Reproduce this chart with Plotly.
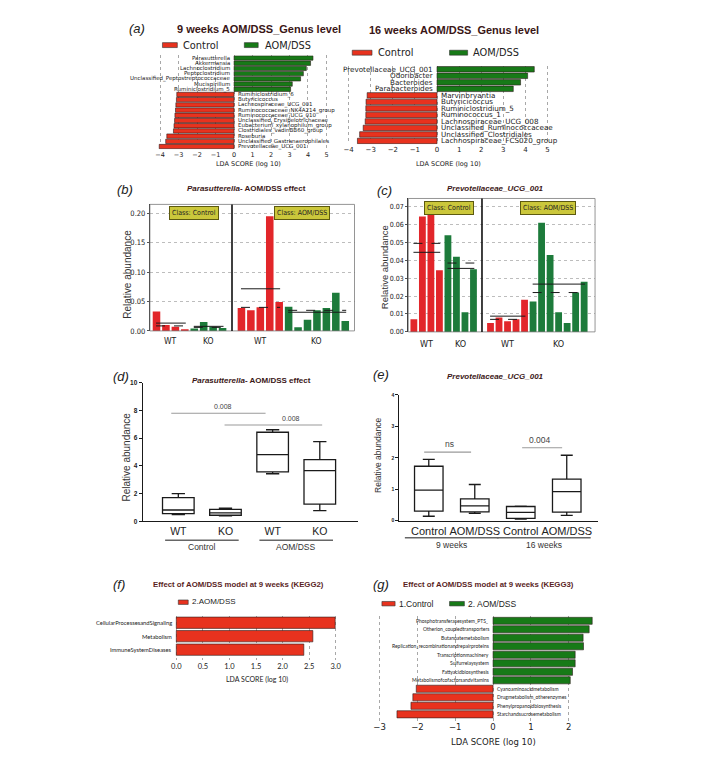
import numpy as np
import plotly.graph_objects as go

# ---------------- DATA ----------------
# (a) LEfSe genus level, 9 weeks
a9_aom_taxa = ["Parasutterella", "Akkermansia", "Lachnoclostridium", "Peptoclostridium",
               "Unclassified_Peptostreptococcaceae", "Mucispirillum", "Ruminiclostridium_5"]
a9_aom_lda = [4.27, 4.14, 3.91, 3.75, 3.60, 3.15, 3.06]
a9_ctrl_taxa = ["Ruminiclostridium_6", "Butyricicoccus", "Lachnospiraceae_UCG_001",
                "Ruminococcaceae_NK4A214_group", "Ruminococcaceae_UCG_010",
                "Unclassified_Erysipelotrichaceae", "Eubacterium_xylanophilum_group",
                "Clostridiales_vadinBB60_group", "Roseburia",
                "Unclassified_Gastranaerophilales", "Prevotellaceae_UCG_001"]
a9_ctrl_lda = [-3.10, -3.12, -3.15, -3.17, -3.20, -3.22, -3.25, -3.28, -3.64, -3.70, -4.05]
# (a) 16 weeks
a16_aom_taxa = ["Prevotellaceae_UCG_001", "Odoribacter", "Bacteroides", "Parabacteroides"]
a16_aom_lda = [4.40, 4.10, 3.78, 3.45]
a16_ctrl_taxa = ["Marvinbryantia", "Butyricicoccus", "Ruminiclostridium_5", "Ruminococcus_1",
                 "Lachnospiraceae_UCG_008", "Unclassified_Ruminococcaceae",
                 "Unclassified_Clostridiales", "Lachnospiraceae_FCS020_group"]
a16_ctrl_lda = [-3.16, -3.21, -3.22, -3.22, -3.25, -3.34, -3.50, -3.60]
lda_ticks_a = [-4, -3, -2, -1, 0, 1, 2, 3, 4, 5]

# (b) Parasutterella relative abundance per mouse
b_ctrl_wt = [0.033, 0.010, 0.007, 0.003]
b_ctrl_ko = [0.004, 0.015, 0.007, 0.005]
b_aom_wt = [0.039, 0.035, 0.040, 0.195, 0.049]
b_aom_ko = [0.041, 0.006, 0.019, 0.035, 0.039, 0.065, 0.017]
b_group_labels = ["WT", "KO", "WT", "KO"]
b_yticks = [0.00, 0.05, 0.10, 0.15, 0.20]

# (c) Prevotellaceae_UCG_001 relative abundance per mouse
c_ctrl_wt = [0.007, 0.0645, 0.072, 0.0345]
c_ctrl_ko = [0.054, 0.042, 0.011, 0.035]
c_aom_wt = [0.005, 0.008, 0.006, 0.007, 0.018]
c_aom_ko = [0.017, 0.061, 0.043, 0.011, 0.005, 0.022, 0.028]
c_group_labels = ["WT", "KO", "WT", "KO"]
c_yticks = [0.00, 0.01, 0.02, 0.03, 0.04, 0.05, 0.06, 0.07]

# (d) box plot summaries
d_labels = ["WT", "KO", "WT", "KO"]
d_low = [0.48, 0.38, 3.43, 0.76]
d_q1 = [0.55, 0.43, 3.57, 1.24]
d_med = [0.81, 0.60, 4.81, 3.66]
d_q3 = [1.71, 0.86, 6.43, 4.45]
d_high = [2.00, 0.95, 6.61, 5.76]
d_groups = ["Control", "AOM/DSS"]
d_sig_x0 = [-0.15, 0.98]
d_sig_x1 = [1.85, 3.05]
d_sig_y = [7.8, 6.95]
d_sig_tx = [0.95, 2.4]
d_sig_text = ["0.008", "0.008"]
d_yticks = [0, 2, 4, 6, 8, 10]

# (e) box plot summaries
e_labels = ["Control", "AOM/DSS", "Control", "AOM/DSS"]
e_low = [0.14, 0.23, 0.05, 0.17]
e_q1 = [0.30, 0.28, 0.07, 0.27]
e_med = [0.97, 0.47, 0.26, 0.92]
e_q3 = [1.73, 0.69, 0.45, 1.32]
e_high = [1.95, 1.15, 0.46, 2.08]
e_groups = ["9 weeks", "16 weeks"]
e_sig_x0 = [-0.1, 2.03]
e_sig_x1 = [0.92, 2.9]
e_sig_y = [2.18, 2.32]
e_sig_tx = [0.44, 2.42]
e_sig_text = ["ns", "0.004"]
e_yticks = [0, 1, 2, 3, 4]

# (f) KEGG2
f_names = ["CellularProcessesandSignaling", "Metabolism", "ImmuneSystemDiseases"]
f_vals = [2.99, 2.57, 2.40]
f_ticks = [0, 0.5, 1.0, 1.5, 2.0, 2.5, 3.0]

# (g) KEGG3
g_aom_names = ["Phosphotransferasesystem_PTS_", "Otherion_coupledtransporters", "Butanoatemetabolism",
               "Replication_recombinationandrepairproteins", "Transcriptionmachinery",
               "Sulfurrelaysystem", "Fattyacidbiosynthesis", "Metabolismofcofactorsandvitamins"]
g_aom_vals = [2.62, 2.54, 2.38, 2.39, 2.17, 2.17, 2.10, 2.04]
g_ctrl_names = ["Cyanoaminoacidmetabolism", "Drugmetabolism_otherenzymes",
                "Phenylpropanoidbiosynthesis", "Starchandsucrosemetabolism"]
g_ctrl_vals = [-2.03, -2.12, -2.17, -2.54]
g_ticks = [-3, -2, -1, 0, 1, 2]

# ---------------- STYLE / HELPERS ----------------
W, H = 709, 779          # browser window
OX, OY = 8, 8            # default page margin of the html body
FW, FH = W - 2 * OX, H - 2 * OY
RED = "#e8321e"
GREEN = "#177a17"
BRED = "#e2262a"
BGREEN = "#1d7b3b"
YEL = "#cbc73b"
INK = "#222222"
TITLE = "#3a1616"
TITLE2 = "#5a1e1e"
SANS = "Liberation Sans, Arial, sans-serif"
DEJ = "DejaVu Sans, sans-serif"
COND = "DejaVu Sans Condensed, Liberation Sans Narrow, Lato, sans-serif"
LATO = "Lato, sans-serif"


def px(x):
    return (x - OX) / FW


def py(y):
    return 1 - (y - OY) / FH


def xdom(a, b):
    return [px(a), px(b)]


def ydom(t, b):
    return [py(b), py(t)]


def axnames(n):
    s = "" if n == 1 else str(n)
    return "xaxis" + s, "yaxis" + s, "x" + s, "y" + s


fig = go.Figure()
ann, shp, lay = [], [], {}


def note(x, y, s, size, family=SANS, color=INK, xref="paper", yref="paper",
         xanchor="center", yanchor="middle", **kw):
    ann.append(dict(x=x, y=y, xref=xref, yref=yref, text=s, showarrow=False,
                    xanchor=xanchor, yanchor=yanchor,
                    font=dict(size=size, family=family, color=color), **kw))


def pnote(xp, yp, s, size, **kw):
    note(px(xp), py(yp), s, size, **kw)


def prect(x0, y0, x1, y1, fill, line="#333333"):
    shp.append(dict(type="rect", xref="paper", yref="paper", x0=px(x0), x1=px(x1),
                    y0=py(y1), y1=py(y0), fillcolor=fill, line=dict(color=line, width=0.6)))


def lefse(n, pos_names, pos_vals, neg_names, neg_vals, pos_color, neg_color,
          dom_x, dom_y, xr, ticks, lab_font, lab_size, tick_font, tick_size,
          tickfmt=None, ybottom_extra=0.0):
    XA, YA, xa, ya = axnames(n)
    names = pos_names + neg_names
    vals = pos_vals + neg_vals
    idx = list(range(len(names)))
    colors = [pos_color] * len(pos_vals) + [neg_color] * len(neg_vals)
    fig.add_trace(go.Bar(x=vals, y=idx, orientation="h", width=0.84,
                         marker=dict(color=colors, line=dict(color="#2b1b1b", width=0.6)),
                         xaxis=xa, yaxis=ya, showlegend=False, hoverinfo="skip"))
    xaxis = dict(domain=dom_x, range=xr, anchor=ya, tickvals=ticks,
                 showgrid=True, gridcolor="#a8a8a8", griddash="dot", gridwidth=0.8,
                 zeroline=False, showline=False, ticks="",
                 tickfont=dict(size=tick_size, family=tick_font, color=INK))
    if tickfmt:
        xaxis["tickformat"] = tickfmt
    lay[XA] = xaxis
    lay[YA] = dict(domain=dom_y, range=[len(names) - 0.5 + ybottom_extra, -0.5],
                   anchor=xa, visible=False)
    for i, (nm, v) in enumerate(zip(names, vals)):
        if v >= 0:
            note(0, i, nm, lab_size, family=lab_font, xref=xa, yref=ya, xanchor="right", xshift=-2)
        else:
            note(0, i, nm, lab_size, family=lab_font, xref=xa, yref=ya, xanchor="left", xshift=2)


def abund(n, groups, glabels, dom_x, dom_y, xr, yr, yticks, label_y, tick_size, lab_size):
    XA, YA, xa, ya = axnames(n)
    colors = [BRED, BGREEN, BRED, BGREEN]
    pos = 0
    xs_all, ys_all, cs_all = [], [], []
    divider = None
    for gi, vals in enumerate(groups):
        if gi == 2:
            divider = pos
            pos += 1
        xs = list(range(pos, pos + len(vals)))
        pos += len(vals)
        xs_all += xs
        ys_all += list(vals)
        cs_all += [colors[gi]] * len(vals)
        m = float(np.mean(vals))
        md = float(np.median(vals))
        shp.append(dict(type="line", xref=xa, yref=ya, x0=xs[0] - 0.05, x1=xs[-1] + 0.1,
                        y0=m, y1=m, line=dict(color="#1a1a1a", width=1), layer="above"))
        shp.append(dict(type="line", xref=xa, yref=ya, x0=xs[0] - 0.05, x1=xs[-1] + 0.1,
                        y0=md, y1=md, line=dict(color="#1a1a1a", width=1, dash="dash"),
                        layer="above"))
        note((xs[0] + xs[-1]) / 2, py(label_y), glabels[gi], lab_size, family=COND,
             xref=xa, yref="paper")
    fig.add_trace(go.Bar(x=xs_all, y=ys_all, width=0.8, marker=dict(color=cs_all, line=dict(width=0)),
                         xaxis=xa, yaxis=ya, showlegend=False, hoverinfo="skip"))
    lay[XA] = dict(domain=dom_x, range=xr, anchor=ya, showticklabels=False, showgrid=False,
                   zeroline=False, showline=False, ticks="")
    lay[YA] = dict(domain=dom_y, range=yr, anchor=xa, tickvals=yticks, tickformat=".2f",
                   showgrid=True, gridcolor="#bdbdbd", griddash="dot", gridwidth=0.8,
                   zeroline=False, showline=True, linecolor="#333", linewidth=1,
                   ticks="outside", ticklen=2, tickcolor="#555",
                   tickfont=dict(size=tick_size, family=COND, color=INK))
    shp.append(dict(type="rect", xref=xa + " domain", yref=ya + " domain", x0=0, x1=1, y0=0, y1=1,
                    line=dict(color="#7a7a7a", width=0.8)))
    shp.append(dict(type="line", xref=xa, yref=ya + " domain", x0=divider, x1=divider, y0=0, y1=1,
                    line=dict(color="#111", width=1.6)))


def boxes(n, labels, low, q1, med, q3, high, dom_x, dom_y, xr, yr, yticks, bw,
          lab_size, ytick_size, sig_x0, sig_x1, sig_y, sig_tx, sig_text, sig_size,
          groups, group_half, line_y, group_y, group_size):
    XA, YA, xa, ya = axnames(n)
    pos = list(range(len(labels)))
    fig.add_trace(go.Box(x=pos, q1=q1, median=med, q3=q3, lowerfence=low, upperfence=high,
                         width=bw, whiskerwidth=0.42, line=dict(color="#1a1a1a", width=1.3),
                         fillcolor="rgba(0,0,0,0)", boxpoints=False, xaxis=xa, yaxis=ya,
                         showlegend=False, hoverinfo="skip"))
    lay[XA] = dict(domain=dom_x, range=xr, anchor=ya, tickvals=pos, ticktext=labels,
                   tickangle=0, showline=True, linecolor="#1a1a1a", linewidth=1.2, ticks="",
                   showgrid=False, zeroline=False,
                   tickfont=dict(size=lab_size, family=SANS, color=INK))
    lay[YA] = dict(domain=dom_y, range=yr, anchor=xa, tickvals=yticks, showline=True,
                   linecolor="#1a1a1a", linewidth=1.2, ticks="outside", ticklen=3,
                   tickwidth=1, tickcolor="#1a1a1a", showgrid=False, zeroline=False,
                   tickfont=dict(size=ytick_size, family=SANS, color=INK, weight="bold"))
    for x0, x1, yv, tx, t in zip(sig_x0, sig_x1, sig_y, sig_tx, sig_text):
        shp.append(dict(type="line", xref=xa, yref=ya, x0=x0, x1=x1, y0=yv, y1=yv,
                        line=dict(color="#9a9a9a", width=1.1)))
        note(tx, yv, t, sig_size, xref=xa, yref=ya, yanchor="bottom", yshift=1, color="#444")
    for gi, g in enumerate(groups):
        c = (pos[2 * gi] + pos[2 * gi + 1]) / 2
        shp.append(dict(type="line", xref=xa, yref="paper", x0=c - group_half, x1=c + group_half,
                        y0=py(line_y), y1=py(line_y), line=dict(color="#666", width=1.6)))
        note(c, py(group_y), g, group_size, xref=xa, yref="paper", color="#333")


# ---------------- PANEL (a) ----------------
lefse(1, a9_aom_taxa, a9_aom_lda, a9_ctrl_taxa, a9_ctrl_lda, GREEN, RED,
      xdom(150.2, 335), ydom(51.9, 146.8), [-4.4, 5.5], lda_ticks_a, DEJ, 5.5, DEJ, 6.5)
lefse(2, a16_aom_taxa, a16_aom_lda, a16_ctrl_taxa, a16_ctrl_lda, GREEN, RED,
      xdom(345.8, 555.7), ydom(62.7, 141.8), [-4.1, 5.3], lda_ticks_a, DEJ, 7.2, DEJ, 7)
pnote(134, 25, "<i>(a)</i>", 13)
pnote(258, 25, "<b>9 weeks AOM/DSS_Genus level</b>", 11, color=TITLE)
pnote(455, 26, "<b>16 weeks AOM/DSS_Genus level</b>", 11, color=TITLE)
prect(160, 39, 175, 44, RED)
pnote(178.3, 41.5, "Control", 9.8, family=DEJ, xanchor="left")
prect(242.7, 39, 256.7, 44, GREEN)
pnote(261.7, 41.5, "AOM/DSS", 9.8, family=DEJ, xanchor="left")
prect(351.7, 46.7, 371.7, 51.7, RED)
pnote(376, 49, "Control", 9.8, family=DEJ, xanchor="left")
prect(450, 46.7, 468.3, 51.7, GREEN)
pnote(471.7, 49, "AOM/DSS", 9.8, family=DEJ, xanchor="left")
pnote(246.7, 162, "LDA SCORE (log 10)", 6.5, family=DEJ)
pnote(448.7, 161.5, "LDA SCORE (log 10)", 6.5, family=DEJ)

# ---------------- PANEL (b) / (c) ----------------
abund(3, [b_ctrl_wt, b_ctrl_ko, b_aom_wt, b_aom_ko], b_group_labels,
      xdom(147.3, 354), ydom(202.7, 330.7), [-0.70, 20.98], [0, 0.2151], b_yticks, 340.7, 7.5, 8.5)
abund(4, [c_ctrl_wt, c_ctrl_ko, c_aom_wt, c_aom_ko], c_group_labels,
      xdom(408.3, 597), ydom(196.7, 331.7), [-0.66, 21.28], [0, 0.0746], c_yticks, 344, 7, 9)
pnote(122, 188, "<i>(b)</i>", 13)
pnote(245, 187, "<b><i>Parasutterella</i>- AOM/DSS effect</b>", 8, color=TITLE)
pnote(384, 189, "<i>(c)</i>", 13)
pnote(496, 187, "<b><i>Prevotellaceae_UCG_001</i></b>", 8, color=TITLE)
pnote(125, 273, "Relative abundance", 10, textangle=-90, color="#333")
pnote(385, 266, "Relative abundance", 9.5, textangle=-90, color="#333")
box_style = dict(family=COND, bgcolor=YEL, bordercolor="#5d5a10", borderwidth=1, borderpad=2)
pnote(191.7, 211, "Class: Control", 7, **box_style)
pnote(300.5, 211, "Class: AOM/DSS", 7, **box_style)
pnote(449, 206, "Class: Control", 7, **box_style)
pnote(549, 206, "Class: AOM/DSS", 7, **box_style)

# ---------------- PANEL (d) / (e) ----------------
boxes(5, d_labels, d_low, d_q1, d_med, d_q3, d_high,
      xdom(140, 358), ydom(383.3, 523.3), [-0.756, 3.82], [0, 10], d_yticks, 0.67,
      10.5, 6.5, d_sig_x0, d_sig_x1, d_sig_y, d_sig_tx, d_sig_text, 7,
      d_groups, 0.78, 542.5, 549, 8.5)
boxes(6, e_labels, e_low, e_q1, e_med, e_q3, e_high,
      xdom(399.3, 600), ydom(395.5, 522.7), [-0.64, 3.68], [0, 4], e_yticks, 0.62,
      11, 5, e_sig_x0, e_sig_x1, e_sig_y, e_sig_tx, e_sig_text, 8.5,
      e_groups, 1.02, 540, 547, 8.5)
pnote(118, 377, "<i>(d)</i>", 13)
pnote(250, 381, "<b><i>Parasutterella</i>- AOM/DSS effect</b>", 8, color=TITLE)
pnote(381, 375, "<i>(e)</i>", 13)
pnote(496, 377, "<b><i>Prevotellaceae_UCG_001</i></b>", 8, color=TITLE)
pnote(124, 458, "Relative abundance", 10, textangle=-90, color="#333")
pnote(377, 457, "Relative abundance", 8.5, textangle=-90, color="#333")

# ---------------- PANEL (f) / (g) ----------------
lefse(7, f_names, f_vals, [], [], RED, RED,
      xdom(171.3, 337.7), ydom(619.2, 664), [-0.05, 3.05], f_ticks, LATO, 5.8, LATO, 7.5,
      tickfmt=".1f", ybottom_extra=(664 - 660.1) / 13.65)
lefse(8, g_aom_names, g_aom_vals, g_ctrl_names, g_ctrl_vals, GREEN, RED,
      xdom(377.4, 602.9), ydom(619.7, 725), [-3.05, 2.85], g_ticks, LATO, 5, DEJ, 8.5,
      ybottom_extra=2.0 / 8.6)
pnote(116, 587, "<i>(f)</i>", 13)
pnote(237, 587, "<b>Effect of AOM/DSS model at 9 weeks (KEGG2)</b>", 7.8, color=TITLE2)
pnote(381, 587, "<i>(g)</i>", 13)
pnote(489, 587, "<b>Effect of AOM/DSS model at 9 weeks (KEGG3)</b>", 7.8, color=TITLE2)
prect(176, 603, 186, 607.5, RED)
pnote(187.7, 605, "2.AOM/DSS", 8, xanchor="left")
prect(381.7, 604.5, 395, 609, RED)
pnote(396.7, 607, "1.Control", 8.5, xanchor="left")
prect(450, 604.5, 465, 609, GREEN)
pnote(466.7, 607, "2. AOM/DSS", 8.5, xanchor="left")
pnote(255, 683, "LDA SCORE (log 10)", 7, family=LATO)
pnote(494, 747, "LDA SCORE (log 10)", 8.5, family=DEJ)

fig.update_layout(width=FW, height=FH, margin=dict(l=0, r=0, t=0, b=0),
                  paper_bgcolor="white", plot_bgcolor="rgba(0,0,0,0)",
                  showlegend=False, barmode="overlay",
                  annotations=ann, shapes=shp, **lay)
fig.write_html("out.html")
